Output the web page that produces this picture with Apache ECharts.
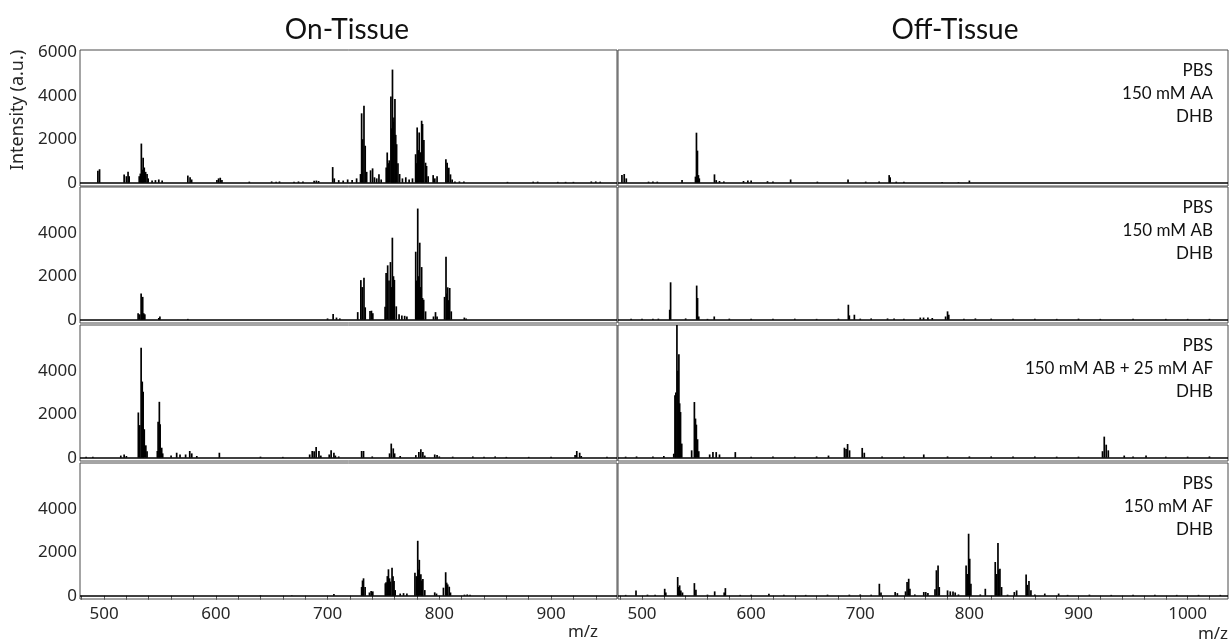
<!DOCTYPE html>
<html>
<head>
<meta charset="utf-8">
<script src="https://cdn.jsdelivr.net/npm/echarts@6/dist/echarts.min.js"></script>
<style>html,body{margin:0;padding:0;background:#fff}#c{width:1231px;height:644px}</style>
</head>
<body>
<div id="c"></div>
<script>
// ---------- DATA ----------
var columnTitles = ['On-Tissue', 'Off-Tissue'];
var conditions = [
  ['PBS', '150 mM AA', 'DHB'],
  ['PBS', '150 mM AB', 'DHB'],
  ['PBS', '150 mM AB + 25 mM AF', 'DHB'],
  ['PBS', '150 mM AF', 'DHB']
];
var xTickLabelsLeft = [500, 600, 700, 800, 900];
var xTickLabelsRight = [500, 600, 700, 800, 900, 1000];
var yTickLabelsTop = [0, 2000, 4000, 6000];
var yTickLabelsOther = [0, 2000, 4000];

// peaks: [m/z, intensity (a.u.)]
var onAA = [
  [494.5,550],[496,620],[518,380],[520,300],[521.5,500],[522.5,300],
  [531.5,300],[532.5,420],[533.4,1800],[534.2,600],[535,1150],[536,700],[537.2,500],[538.5,400],[539.5,200],
  [543,100],[546,120],[549,150],[552,100],
  [575,330],[577,250],[578.4,150],
  [601,120],[602.5,200],[604,230],[605.5,130],
  [630,50],[650,60],[654,50],[657,60],[670,50],[674,60],[678,60],[688,90],[690,100],[692,80],
  [704.6,720],[706,200],[710,120],[714,100],[718,150],[722,120],[726,200],
  [729.5,400],[730.5,3190],[731.5,2000],[732.6,3540],[733.7,1700],[735,500],
  [738.5,570],[740.3,660],[742,250],[744,200],[746,385],[748,150],
  [752.5,700],[753.4,1390],[754.3,900],[755.2,1030],[756.7,3960],[757.4,2500],[758.1,5200],[758.8,2800],[759.4,3000],[760.3,3850],[761,2200],[761.8,1770],[763,900],[764.5,400],
  [767,200],[770,250],[773,150],[776,200],
  [778.8,1310],[779.5,900],[780.2,2540],[781.1,1500],[782,2310],[783.1,1400],[784.2,2850],[785,2700],[786.2,1960],[787.7,920],[788.6,770],[790,300],
  [794.5,350],[796,200],[798,300],
  [805.9,1080],[807,920],[808.5,690],[810,385],[811.5,150],
  [814,60],[818,60],[822,60],[861,40],[884,50],[888,50],[906,40],[913,40],[920,40],[936,60],[940,60],[944,50]
];
var onAB = [
  [530.5,300],[532,250],[533.2,1200],[534,900],[534.6,1050],[535.5,300],[536.5,250],
  [549,80],[550,150],[575,40],
  [700,60],[705,260],[708,100],[711,60],
  [727,350],[729.8,1820],[731,1500],[732.6,1925],[733.7,570],[738,400],[739.3,415],[740.5,300],
  [751.5,600],[752.4,2150],[753.8,2500],[755,1800],[756.3,2650],[757,1500],[758,3770],[759,2000],[759.8,1830],[761.5,615],
  [764,250],[766.5,200],[769,180],[771,150],
  [778.9,3125],[779.8,1800],[780.7,5110],[781.6,2000],[782.5,3540],[783.4,1500],[784.2,2420],[785,1000],[786,920],[787.7,385],
  [794.8,150],[796.6,350],[798,150],
  [804.7,1050],[806,2900],[806.8,1200],[807.5,1490],[808.4,900],[809.3,1460],[810.7,385],
  [822.4,100],[824,60]
];
var onABAF = [
  [484,50],[490,40],[515,100],[518,150],[520,80],
  [530.7,2080],[532,1500],[533.2,5050],[534.2,3500],[535,3030],[536,1310],[537.4,570],[538.5,300],
  [547.7,310],[548.4,1650],[549.5,2570],[550.2,1540],[551.6,460],[552.5,200],
  [560,100],[565,230],[568,150],[573,150],[576.7,310],[578.5,200],[583,80],[603.2,230],[640,50],[660,40],
  [684,150],[686.3,310],[688,300],[689.8,490],[692.3,310],[694,100],
  [701.5,150],[703.2,340],[705.7,230],[707,100],[710,60],
  [730.5,310],[732.2,310],[740,60],
  [755.5,200],[757,650],[758.8,430],[760,200],[765,80],
  [779,120],[781.7,260],[783.5,385],[785.3,260],[787,100],
  [795.9,150],[798,120],[800,60],[812,50],[830,60],[840,50],[850,60],[860,40],[880,40],[900,40],
  [921.5,120],[923,310],[925.6,230],[927,80],[950,50]
];
var onAF = [
  [640,20],[668,20],[705.7,80],
  [730.5,400],[731.3,700],[732.2,800],[733.6,400],
  [737.5,150],[739,215],[740.5,200],
  [751.7,570],[752.4,615],[753.5,900],[754.5,1215],[755.5,800],[756.3,650],[757.7,1290],[758.6,900],[759.5,680],[760.5,260],
  [765,100],[768,120],[771,100],
  [778.2,1060],[779.5,900],[780.7,2525],[781.4,1200],[782.1,1650],[783.5,985],[784.4,700],[785.3,770],[787,260],
  [795.9,155],[797.5,100],
  [803.7,370],[805.7,1080],[806.6,600],[807.5,520],[808.9,415],[810,150],
  [822.5,50],[825,60],[827.5,50]
];
var offAA = [
  [481.6,350],[483.7,400],[485.6,200],
  [506,50],[510,60],[514,50],[536.7,120],
  [549,280],[549.9,2300],[550.8,1475],[551.7,350],[552.5,200],
  [566.4,385],[568,120],[571,80],[575,60],
  [593,80],[597,100],[600,100],[615,70],[620,60],[636.2,150],[660.7,50],[688.8,150],[705,50],[717.3,60],
  [726.5,350],[727.4,250],[733,50],[740,40],[775,30],[790,30],[800,100]
];
var offAB = [
  [490,40],[500,50],[510,40],[515,50],
  [525.4,460],[526.2,1720],[540,60],
  [550.1,1570],[550.9,1000],[552,150],[560,40],[566.2,150],
  [580,50],[600,50],[620,40],[640,50],[660,40],[680,50],
  [689.1,690],[690,200],[694.6,230],[700,50],[710,60],[725,60],[731,60],[740,50],
  [755,100],[758,100],[762,100],[766,80],
  [778.2,150],[780,385],[781.1,230],[795,50],[805.5,60],[820,50],[840,40],[860,40],[880,40],[900,50],[920,40],[950,40],[980,40],[1000,40],[1020,40]
];
var offABAF = [
  [485,50],[495,60],[510,60],[520,80],
  [529.1,185],[530.2,2870],[531,3000],[532,6400],[532.9,4000],[533.8,4760],[534.5,2500],[535.3,2100],[536.4,650],
  [545.5,340],[548,2560],[549,1800],[549.8,1520],[550.9,850],[552,300],
  [562,150],[565,260],[568,260],[571,150],[585.5,260],
  [600,50],[620,60],[640,50],[660,60],[670.9,100],
  [685.5,460],[687,400],[688.4,630],[690.2,340],[701.8,450],[703.7,230],
  [720,60],[740,60],[758.2,150],[780,60],[800,60],[820,60],[840,60],[860,60],[880,50],[900,50],
  [922,300],[923.6,970],[925.4,600],[927.3,340],[941.9,100],[950,60],[961.9,100],[980,50],[1000,50],[1020,60]
];
var offAF = [
  [485,40],[494.5,245],[505,50],[512,40],
  [520.8,320],[521.8,150],
  [532.7,860],[533.6,400],[534.5,475],[535.6,245],[537.1,150],
  [548,580],[549.4,280],[560,50],[566.6,200],[575.3,150],[576.4,350],
  [590,40],[600,50],[616.3,90],[630,50],[650,40],[670,50],[690,50],[700,60],[710,50],
  [717.5,550],[719,150],[732,170],[734,120],
  [741.5,200],[742.9,630],[744.4,780],[745.5,320],[750,60],
  [758.2,170],[760,170],[762,120],
  [768.5,300],[769.8,1170],[771.3,1395],[772.4,400],
  [780,245],[782.5,200],[785,200],[787,150],[790,60],
  [797,1395],[798,1000],[799.3,2850],[800.3,1700],[801.4,550],
  [810,60],[814.6,320],
  [823.7,1550],[825,1000],[826.2,2420],[827,1200],[828,1240],[829.5,400],
  [835,50],[841.2,170],[843.3,245],
  [852,980],[853,500],[854.6,675],[856.4,250],
  [860,60],[869.1,100],[881.8,100],[890,40],[910,50],[930,40],[950,40],[970,40],[990,40],[1010,40],[1030,40]
];

var panels = [[onAA, offAA], [onAB, offAB], [onABAF, offABAF], [onAF, offAF]];

// ---------- LAYOUT ----------
var rowTops = [50, 187, 325, 463];
var rowHeight = 136;
var colLeft = [80, 618];
var colWidth = [537, 610];
var xRange = [[478.5, 959], [478, 1037]];
var yMin = -150, yMax = 6100;
var tickFont = 'Noto Sans';
var textFont = 'Lato';

function range(a, b, s) { var r = []; for (var v = a; v <= b; v += s) r.push(v); return r; }
function plain(v) { return String(v); }

var grids = [], xAxes = [], yAxes = [], series = [];
for (var r = 0; r < 4; r++) {
  for (var c = 0; c < 2; c++) {
    var idx = grids.length;
    var bottomRow = (r === 3);
    grids.push({
      left: colLeft[c], top: rowTops[r], width: colWidth[c], height: rowHeight,
      show: true, borderColor: '#4a4a4a', borderWidth: 1, backgroundColor: 'transparent'
    });
    xAxes.push({
      type: 'value', gridIndex: idx, min: xRange[c][0], max: xRange[c][1],
      axisLine: { show: false },
      splitLine: { show: false },
      axisTick: {
        show: bottomRow, length: 4, lineStyle: { color: '#555', width: 1 },
        customValues: range(480, c === 0 ? 940 : 1020, 20)
      },
      axisLabel: {
        show: bottomRow, fontFamily: tickFont, fontSize: 17, color: '#262626', margin: 7,
        formatter: plain,
        customValues: c === 0 ? xTickLabelsLeft : xTickLabelsRight
      }
    });
    yAxes.push({
      type: 'value', gridIndex: idx, min: yMin, max: yMax,
      axisLine: { show: false }, splitLine: { show: false }, axisTick: { show: false },
      axisLabel: {
        show: c === 0, fontFamily: tickFont, fontSize: 17, color: '#262626', margin: 3,
        formatter: plain,
        customValues: r === 0 ? yTickLabelsTop : yTickLabelsOther
      }
    });
    series.push({
      type: 'custom', xAxisIndex: idx, yAxisIndex: idx, clip: true, silent: true,
      data: panels[r][c],
      renderItem: function (params, api) {
        var p0 = api.coord([api.value(0), 0]);
        var p1 = api.coord([api.value(0), api.value(1)]);
        return { type: 'line', shape: { x1: p0[0], y1: p0[1], x2: p1[0], y2: p1[1] },
                 style: { stroke: '#000', lineWidth: 1.7 } };
      },
      markLine: {
        silent: true, symbol: 'none', animation: false,
        label: { show: false },
        lineStyle: { color: '#000', width: 1.6, type: 'solid' },
        data: [{ yAxis: 0 }]
      }
    });
  }
}

var graphics = [
  { type: 'text', x: 347, y: 30, style: { text: columnTitles[0], font: '28px ' + textFont, fill: '#111', textAlign: 'center', textVerticalAlign: 'middle' } },
  { type: 'text', x: 955, y: 30, style: { text: columnTitles[1], font: '28px ' + textFont, fill: '#111', textAlign: 'center', textVerticalAlign: 'middle' } },
  { type: 'text', x: 18, y: 110, rotation: Math.PI / 2, style: { text: 'Intensity (a.u.)', font: '18px ' + tickFont, fill: '#262626', textAlign: 'center', textVerticalAlign: 'middle' } },
  { type: 'text', x: 583, y: 632, style: { text: 'm/z', font: '17px ' + tickFont, fill: '#262626', textAlign: 'center', textVerticalAlign: 'middle' } },
  { type: 'text', x: 1213, y: 634, style: { text: 'm/z', font: '17px ' + tickFont, fill: '#262626', textAlign: 'center', textVerticalAlign: 'middle' } }
];
for (var r2 = 0; r2 < 4; r2++) {
  for (var k = 0; k < conditions[r2].length; k++) {
    graphics.push({ type: 'text', x: 1213, y: rowTops[r2] + 21 + k * 23,
      style: { text: conditions[r2][k], font: '17px ' + textFont, fill: '#111', textAlign: 'right', textVerticalAlign: 'middle' } });
  }
}

var chart = echarts.init(document.getElementById('c'), null, { renderer: 'canvas' });
chart.setOption({
  animation: false,
  backgroundColor: '#fff',
  grid: grids, xAxis: xAxes, yAxis: yAxes, series: series,
  graphic: graphics
});
</script>
</body>
</html>
